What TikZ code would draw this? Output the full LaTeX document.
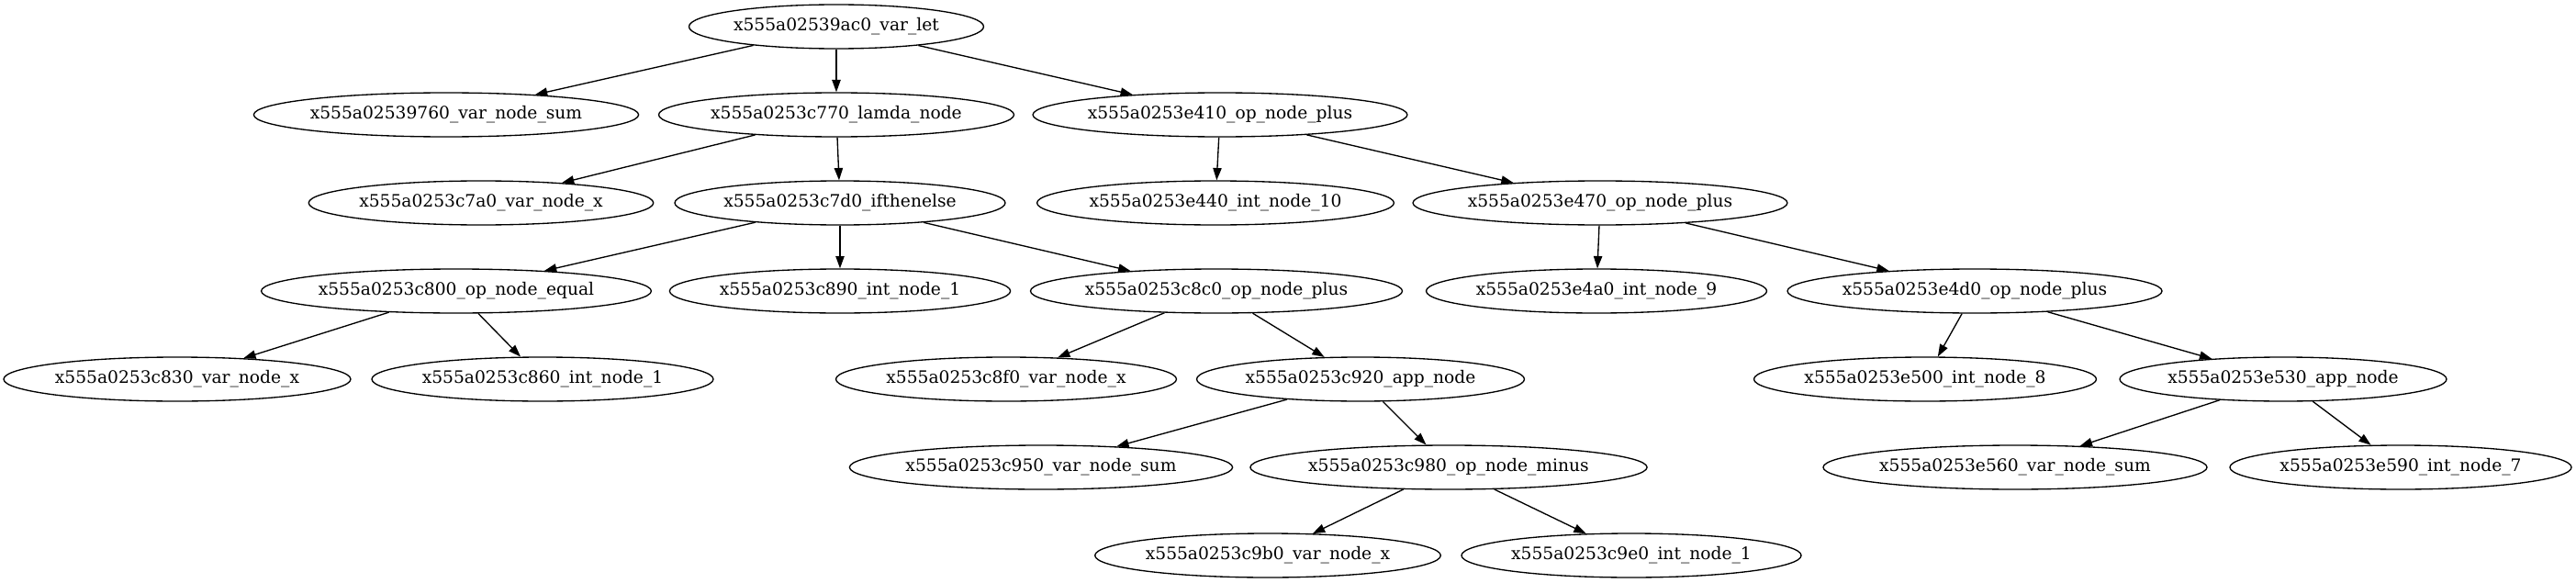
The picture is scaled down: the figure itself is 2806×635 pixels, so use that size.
\documentclass[tikz,border=0pt]{standalone}
\usepackage{fontspec}
\setmainfont{DejaVu Serif}
\usetikzlibrary{arrows.meta,shapes.geometric}
\begin{document}
\begin{tikzpicture}[x=0.75pt,y=-0.75pt,
  gv/.style={draw, ellipse, line width=1pt, inner sep=0pt, minimum height=36pt,
    font=\fontsize{14}{16}\selectfont},
  gw/.style={minimum width=#1*0.75pt},
  edge/.style={line width=1pt, -{Triangle[length=10pt,width=7pt]}}]
\useasboundingbox (0,0) rectangle (2806,635);
% row 0
\node[gv,gw=321] (let) at (911,29) {x555a02539ac0\_var\_let};
% row 1
\node[gv,gw=417] (sum) at (486,125) {x555a02539760\_var\_node\_sum};
\node[gv,gw=383] (lamda) at (911,125) {x555a0253c770\_lamda\_node};
\node[gv,gw=403] (e410) at (1329,125) {x555a0253e410\_op\_node\_plus};
% row 2
\node[gv,gw=374] (c7a0) at (524,221) {x555a0253c7a0\_var\_node\_x};
\node[gv,gw=360] (c7d0) at (915,221) {x555a0253c7d0\_ifthenelse};
\node[gv,gw=388] (e440) at (1324,221) {x555a0253e440\_int\_node\_10};
\node[gv,gw=405] (e470) at (1743,221) {x555a0253e470\_op\_node\_plus};
% row 3
\node[gv,gw=420] (c800) at (497,317) {x555a0253c800\_op\_node\_equal};
\node[gv,gw=370] (c890) at (915,317) {x555a0253c890\_int\_node\_1};
\node[gv,gw=402] (c8c0) at (1325,317) {x555a0253c8c0\_op\_node\_plus};
\node[gv,gw=371] (e4a0) at (1739,317) {x555a0253e4a0\_int\_node\_9};
\node[gv,gw=404] (e4d0) at (2151,317) {x555a0253e4d0\_op\_node\_plus};
% row 4
\node[gv,gw=378] (c830) at (193,413) {x555a0253c830\_var\_node\_x};
\node[gv,gw=372] (c860) at (591,413) {x555a0253c860\_int\_node\_1};
\node[gv,gw=371] (c8f0) at (1096,413) {x555a0253c8f0\_var\_node\_x};
\node[gv,gw=357] (c920) at (1482,413) {x555a0253c920\_app\_node};
\node[gv,gw=373] (e500) at (2097,413) {x555a0253e500\_int\_node\_8};
\node[gv,gw=356] (e530) at (2487,413) {x555a0253e530\_app\_node};
% row 5
\node[gv,gw=415] (c950) at (1134,509) {x555a0253c950\_var\_node\_sum};
\node[gv,gw=426] (c980) at (1578,509) {x555a0253c980\_op\_node\_minus};
\node[gv,gw=410] (e560) at (2195,509) {x555a0253e560\_var\_node\_sum};
\node[gv,gw=372] (e590) at (2615,509) {x555a0253e590\_int\_node\_7};
% row 6
\node[gv,gw=376] (c9b0) at (1381,605) {x555a0253c9b0\_var\_node\_x};
\node[gv,gw=369] (c9e0) at (1777,605) {x555a0253c9e0\_int\_node\_1};
% edges
\draw[edge] (let) -- (sum);
\draw[edge] (let) -- (lamda);
\draw[edge] (let) -- (e410);
\draw[edge] (lamda) -- (c7a0);
\draw[edge] (lamda) -- (c7d0);
\draw[edge] (e410) -- (e440);
\draw[edge] (e410) -- (e470);
\draw[edge] (c7d0) -- (c800);
\draw[edge] (c7d0) -- (c890);
\draw[edge] (c7d0) -- (c8c0);
\draw[edge] (e470) -- (e4a0);
\draw[edge] (e470) -- (e4d0);
\draw[edge] (c800) -- (c830);
\draw[edge] (c800) -- (c860);
\draw[edge] (c8c0) -- (c8f0);
\draw[edge] (c8c0) -- (c920);
\draw[edge] (e4d0) -- (e500);
\draw[edge] (e4d0) -- (e530);
\draw[edge] (c920) -- (c950);
\draw[edge] (c920) -- (c980);
\draw[edge] (e530) -- (e560);
\draw[edge] (e530) -- (e590);
\draw[edge] (c980) -- (c9b0);
\draw[edge] (c980) -- (c9e0);
\end{tikzpicture}
\end{document}
